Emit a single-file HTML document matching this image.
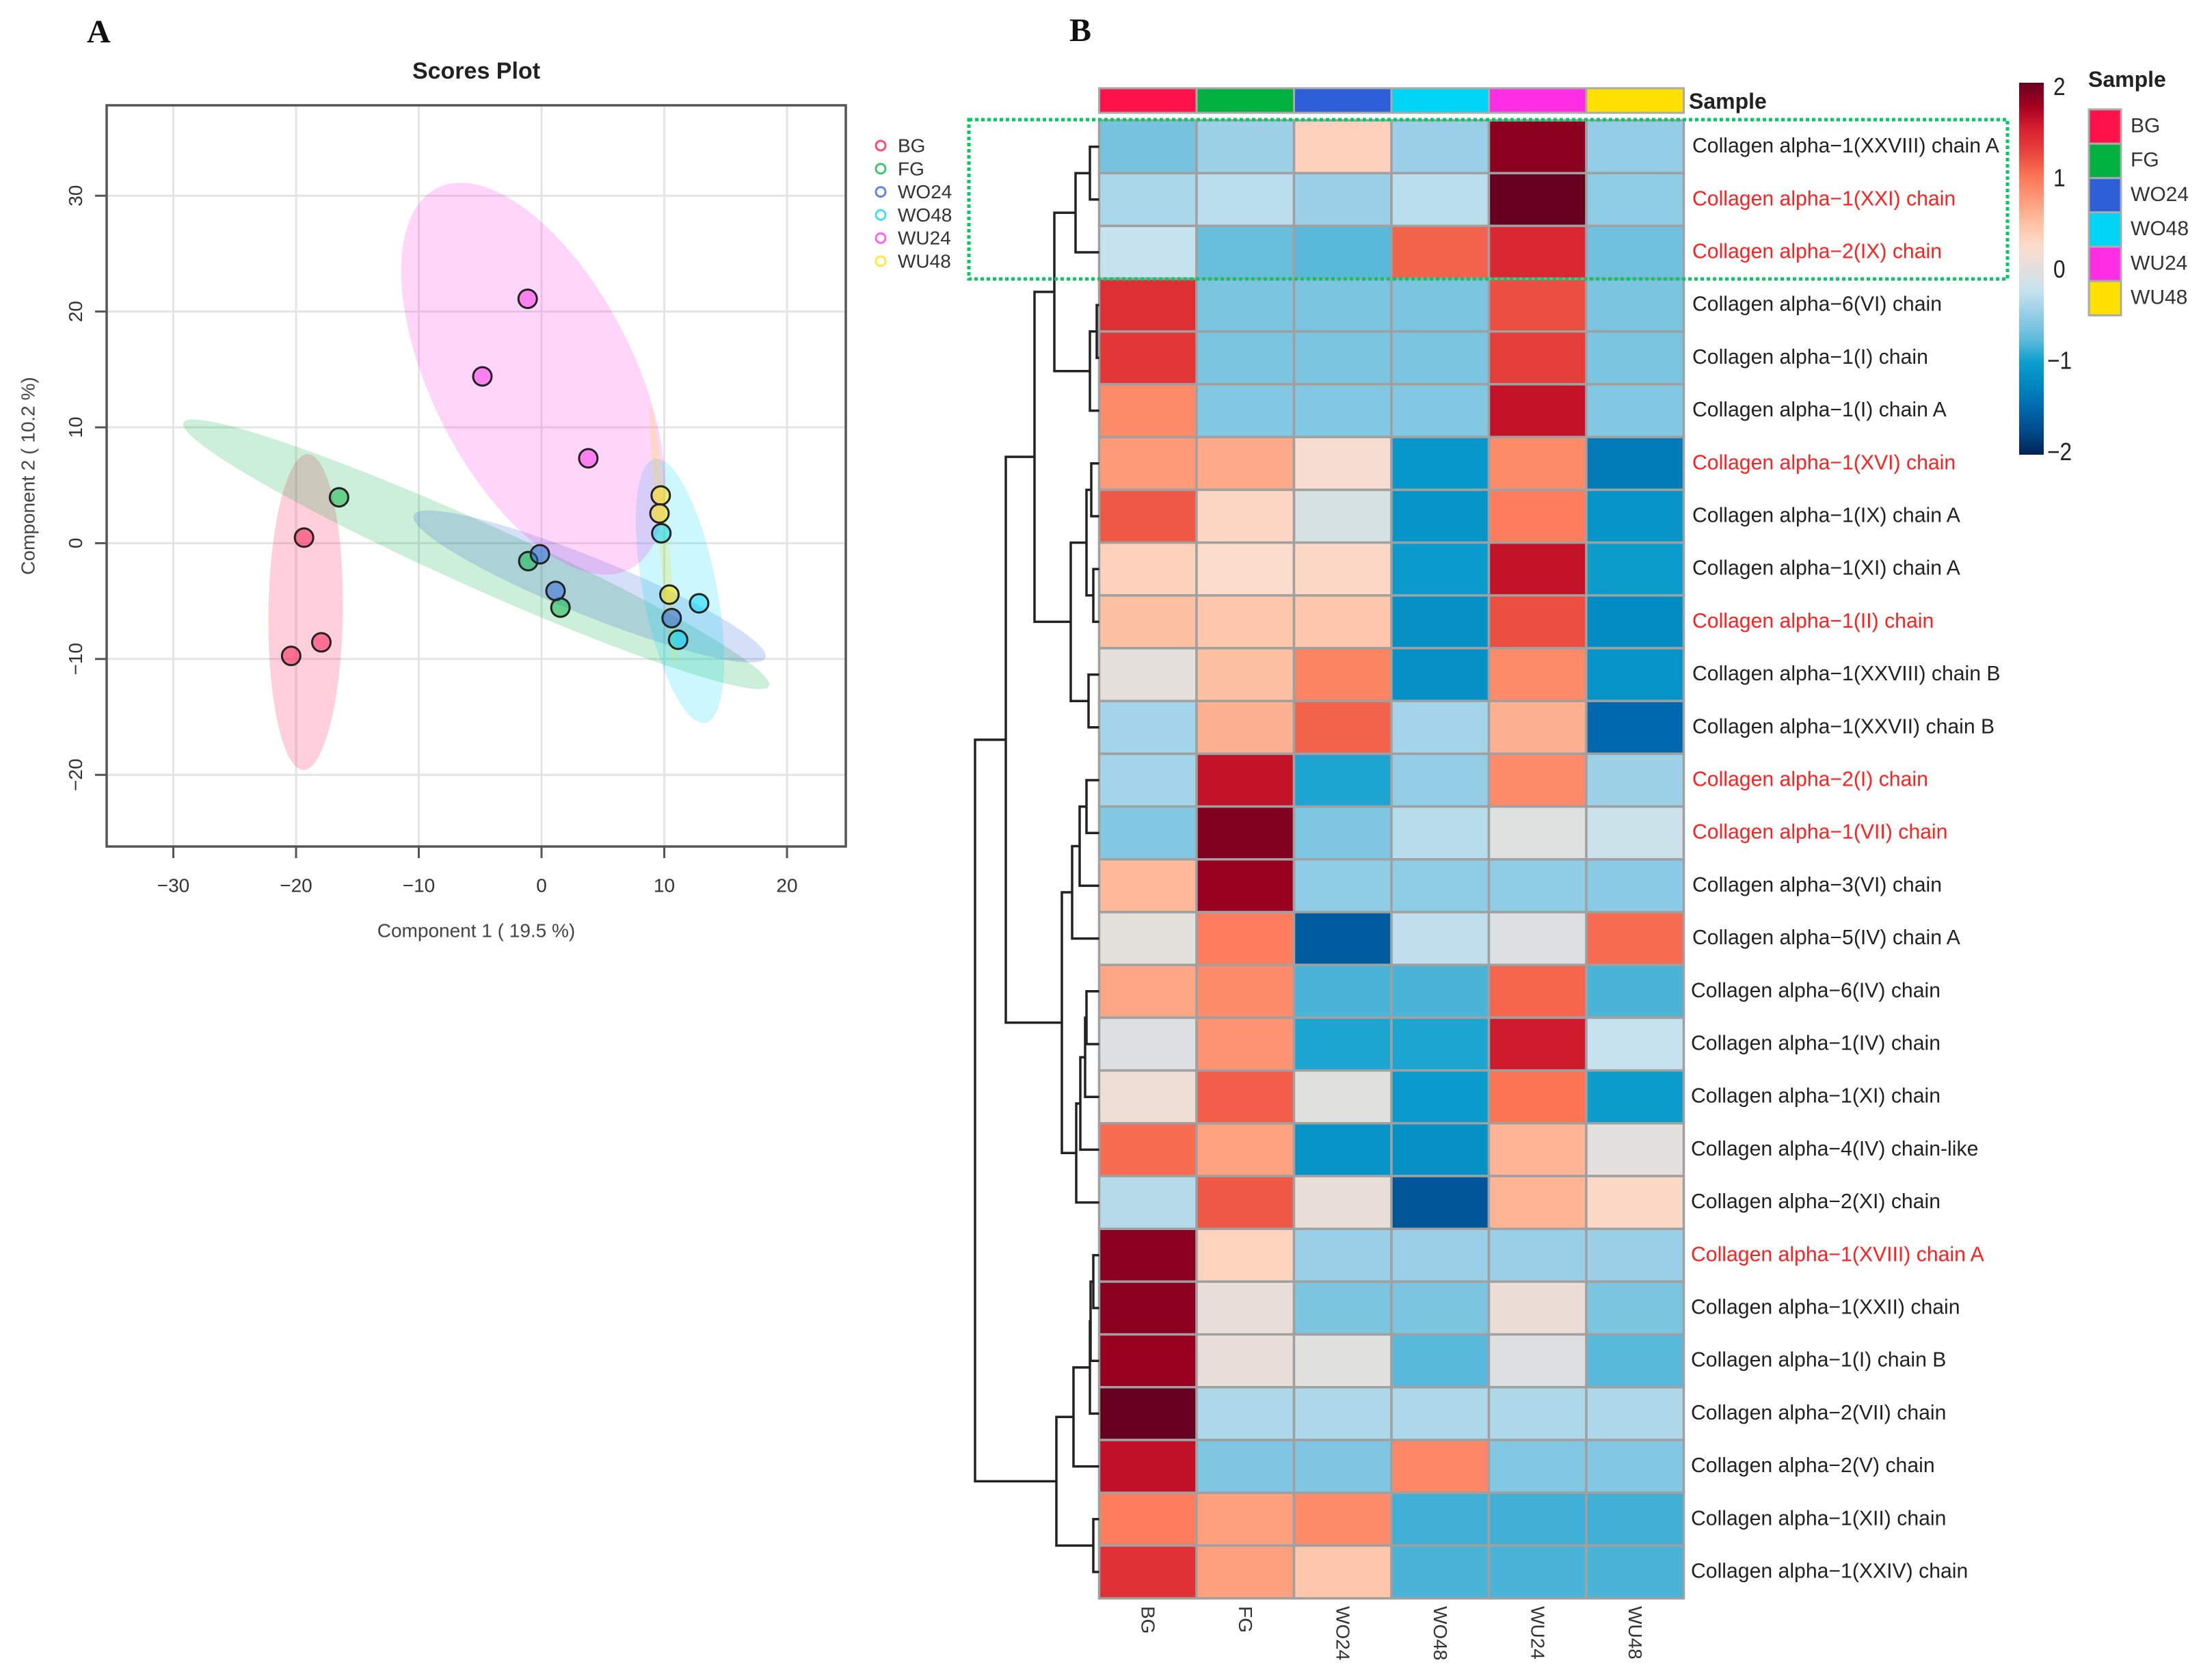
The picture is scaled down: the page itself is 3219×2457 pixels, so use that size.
<!DOCTYPE html>
<html lang="en">
<head>
<meta charset="utf-8">
<title>Scores plot and collagen heatmap</title>
<style>
html,body{margin:0;padding:0;background:#fff;}
svg{display:block;font-family:"Liberation Sans",sans-serif;}
</style>
</head>
<body>
<svg id="fig" xmlns="http://www.w3.org/2000/svg" width="3219" height="2457" viewBox="0 0 3219 2457">
<rect width="3219" height="2457" fill="#fff"/>
<text x="127" y="62" font-family="'Liberation Serif',serif" font-weight="bold" font-size="48" fill="#111">A</text>
<text x="1564" y="60" font-family="'Liberation Serif',serif" font-weight="bold" font-size="48" fill="#111">B</text>
<text x="696.5" y="104" text-anchor="middle" dominant-baseline="central" font-weight="bold" font-size="34" fill="#222">Scores Plot</text>
<text x="696.5" y="1361" text-anchor="middle" dominant-baseline="central" font-size="28" fill="#444">Component 1 ( 19.5 %)</text>
<text transform="translate(41,696) rotate(-90)" text-anchor="middle" dominant-baseline="central" font-size="28" fill="#444">Component 2 ( 10.2 %)</text>
<g id="scores"></g>
<g id="heat"></g>
<g id="dendro"></g>
<g id="cbar"></g>
<g id="samplelegend"></g>
<rect x="1417" y="175" width="1519" height="233" fill="none" stroke="#00cc66" stroke-width="5" stroke-dasharray="5 4"/>
</svg>
<script>
// ---------- Scores plot data ----------
var groups = ['BG','FG','WO24','WO48','WU24','WU48'];
var groupColors = ['#FF1249','#00B140','#2C5FD8','#00D5F5','#FF2EE5','#FFE000'];
var xTicks = [-30,-20,-10,0,10,20];
var yTicks = [-20,-10,0,10,20,30];
var pointsX = [[-19.35,-17.94,-20.4],[-16.5,-1.08,1.54],[-0.13,1.14,10.6],[9.76,12.84,11.13],[-1.13,-4.82,3.81],[9.71,9.61,10.42]];
var pointsY = [[0.48,-8.56,-9.73],[3.96,-1.55,-5.56],[-0.96,-4.12,-6.47],[0.86,-5.19,-8.34],[21.1,14.4,7.33],[4.12,2.57,-4.44]];
var ellipseCX = [-19.22,-5.32,3.91,11.28,-0.68,9.9];
var ellipseCY = [-5.94,-0.96,-3.74,-4.12,14.2,0.64];
var ellipseAX = [0.18,23.86,14.33,-2.07,7.85,1.01];
var ellipseAY = [13.64,-11.36,-6.15,11.39,-16.45,-11.23];
var ellipseBX = [3.03,-1.08,-0.86,2.95,7.35,0.4];
var ellipseBY = [-0.04,-2.53,-2.30,0.6,3.95,0.05];

// ---------- Heatmap data ----------
var sampleNames = ['BG','FG','WO24','WO48','WU24','WU48'];
var rowNames = [
'Collagen alpha\u22121(XXVIII) chain A','Collagen alpha\u22121(XXI) chain','Collagen alpha\u22122(IX) chain',
'Collagen alpha\u22126(VI) chain','Collagen alpha\u22121(I) chain','Collagen alpha\u22121(I) chain A',
'Collagen alpha\u22121(XVI) chain','Collagen alpha\u22121(IX) chain A','Collagen alpha\u22121(XI) chain A',
'Collagen alpha\u22121(II) chain','Collagen alpha\u22121(XXVIII) chain B','Collagen alpha\u22121(XXVII) chain B',
'Collagen alpha\u22122(I) chain','Collagen alpha\u22121(VII) chain','Collagen alpha\u22123(VI) chain',
'Collagen alpha\u22125(IV) chain A','Collagen alpha\u22126(IV) chain','Collagen alpha\u22121(IV) chain',
'Collagen alpha\u22121(XI) chain','Collagen alpha\u22124(IV) chain-like','Collagen alpha\u22122(XI) chain',
'Collagen alpha\u22121(XVIII) chain A','Collagen alpha\u22121(XXII) chain','Collagen alpha\u22121(I) chain B',
'Collagen alpha\u22122(VII) chain','Collagen alpha\u22122(V) chain','Collagen alpha\u22121(XII) chain','Collagen alpha\u22121(XXIV) chain'];
var redRows = [1,2,6,9,12,13,21];
var heatValues = [
[-0.65,-0.45,0.35,-0.47,1.85,-0.5],
[-0.38,-0.3,-0.47,-0.3,2.0,-0.52],
[-0.25,-0.72,-0.78,1.1,1.45,-0.68],
[1.4,-0.62,-0.62,-0.62,1.2,-0.62],
[1.35,-0.62,-0.62,-0.62,1.3,-0.62],
[0.85,-0.58,-0.58,-0.58,1.6,-0.58],
[0.75,0.65,0.2,-1.08,0.85,-1.35],
[1.15,0.3,-0.1,-1.1,0.95,-1.1],
[0.35,0.25,0.28,-1.05,1.6,-1.03],
[0.5,0.45,0.45,-1.15,1.2,-1.2],
[0.03,0.5,0.9,-1.15,0.85,-1.12],
[-0.42,0.6,1.1,-0.42,0.6,-1.5],
[-0.42,1.6,-0.95,-0.5,0.85,-0.45],
[-0.58,1.9,-0.6,-0.32,-0.03,-0.2],
[0.55,1.8,-0.52,-0.52,-0.52,-0.55],
[0.02,0.95,-1.6,-0.28,-0.05,1.05],
[0.68,0.85,-0.82,-0.82,1.08,-0.82],
[-0.05,0.8,-0.95,-0.95,1.55,-0.25],
[0.12,1.12,-0.02,-1.05,1.0,-1.03],
[1.05,0.7,-1.12,-1.15,0.58,0.01],
[-0.33,1.15,0.08,-1.65,0.58,0.28],
[1.85,0.33,-0.47,-0.47,-0.47,-0.47],
[1.85,0.08,-0.62,-0.62,0.1,-0.62],
[1.8,0.08,-0.02,-0.78,-0.04,-0.78],
[2.0,-0.37,-0.37,-0.37,-0.37,-0.37],
[1.62,-0.6,-0.6,0.88,-0.58,-0.58],
[0.95,0.72,0.85,-0.85,-0.85,-0.85],
[1.38,0.72,0.45,-0.82,-0.82,-0.82]];
var scaleValues = [-2,-1.75,-1.5,-1.25,-1,-0.75,-0.5,-0.25,0,0.25,0.5,0.75,1,1.25,1.5,1.75,2];
var scaleColors = ['#002255','#004a8a','#0068ad','#0087c0','#0c9fce','#62bcdc','#93cde6','#c5e2ee','#e2e0de','#fcdccb','#fec0a2','#fe9a78','#fb7555','#e8453c','#d82030','#a5001f','#670020'];
var scaleTicks = [2,1,0,-1,-2];
// Each merge: child a, child b, height. Children below 100 are rows; 100+n refers to merge n.
var dendroChildA = [0,100,3,102,101,6,8,105,10,107,104,12,111,112,16,114,115,116,113,110,21,120,121,122,26,123,119];
var dendroChildB = [1,2,4,5,103,7,9,106,11,108,109,13,14,15,17,18,19,20,117,118,22,23,24,25,27,124,125];
var dendroHeight = [1.3,3.4,0.3,1.3,6.5,1.1,0.8,1.8,1.5,4.1,9.4,1.8,2.8,3.9,1.8,2.0,2.7,3.3,5.4,13.6,0.8,1.2,1.3,3.7,0.8,6.2,18.1];

// ---------- Helpers ----------
var NS = 'http://www.w3.org/2000/svg';
function mk(tag, attrs, parent, txt){
  var e = document.createElementNS(NS, tag);
  for (var k in attrs) e.setAttribute(k, attrs[k]);
  if (txt !== undefined) e.textContent = txt;
  parent.appendChild(e);
  return e;
}
function fmt(v){ return v < 0 ? '\u2212' + Math.abs(v) : String(v); }

// ---------- Axis functions ----------
function xS(v){ return 792 + 17.95 * v; }
function yS(v){ return 794.4 - 16.94 * v; }
var heatLeft = 1607.5, colW = 142.5, heatTop = 176, rowH = 77.2;
function colX(i){ return heatLeft + colW * i; }
function rowY(i){ return heatTop + rowH * i; }
function dX(h){ return 1607 - 10 * h; }
function cbY(v){ return 393 - 136 * v; }
function cbLabelY(v){ return 394.5 - 133.5 * v; }
function hexToRgb(h){ return [parseInt(h.substr(1,2),16),parseInt(h.substr(3,2),16),parseInt(h.substr(5,2),16)]; }
function colorOf(v){
  var n = scaleValues.length;
  if (v <= scaleValues[0]) return scaleColors[0];
  if (v >= scaleValues[n-1]) return scaleColors[n-1];
  for (var i = 0; i < n-1; i++){
    if (v <= scaleValues[i+1]){
      var t = (v - scaleValues[i]) / (scaleValues[i+1] - scaleValues[i]);
      var a = hexToRgb(scaleColors[i]), b = hexToRgb(scaleColors[i+1]);
      return 'rgb(' + Math.round(a[0]+(b[0]-a[0])*t) + ',' + Math.round(a[1]+(b[1]-a[1])*t) + ',' + Math.round(a[2]+(b[2]-a[2])*t) + ')';
    }
  }
}

// ---------- Scores plot ----------
var sg = document.getElementById('scores');
var i, j, el;
for (i = 0; i < xTicks.length; i++){
  el = mk('line',{x1:xS(xTicks[i]),x2:xS(xTicks[i]),y1:154,y2:1238,stroke:'#e4e4e4','stroke-width':3},sg);
  
  
}
for (i = 0; i < yTicks.length; i++){
  el = mk('line',{x1:156,x2:1237,y1:yS(yTicks[i]),y2:yS(yTicks[i]),stroke:'#e4e4e4','stroke-width':3},sg);
  
  
}
for (i = 0; i < groups.length; i++){
  var d = '';
  for (j = 0; j <= 96; j++){
    var t = j / 96 * Math.PI * 2;
    var ex = ellipseCX[i] + ellipseAX[i]*Math.cos(t) + ellipseBX[i]*Math.sin(t);
    var ey = ellipseCY[i] + ellipseAY[i]*Math.cos(t) + ellipseBY[i]*Math.sin(t);
    d += (j ? 'L' : 'M') + xS(ex).toFixed(1) + ' ' + yS(ey).toFixed(1);
  }
  el = mk('path',{d:d+'Z',fill:groupColors[i],'fill-opacity':0.2,stroke:'none'},sg);
  
  
}
for (i = 0; i < groups.length; i++){
  for (j = 0; j < pointsX[i].length; j++){
    el = mk('circle',{cx:xS(pointsX[i][j]),cy:yS(pointsY[i][j]),r:13.5,fill:groupColors[i],'fill-opacity':0.5,stroke:'#222','stroke-width':3},sg);
    
    
  }
}
el = mk('rect',{x:156,y:154,width:1081,height:1084,fill:'none',stroke:'#555','stroke-width':3.5},sg);


for (i = 0; i < xTicks.length; i++){
  el = mk('line',{x1:xS(xTicks[i]),x2:xS(xTicks[i]),y1:1238,y2:1255,stroke:'#555','stroke-width':3},sg);
  
  
  el = mk('text',{x:xS(xTicks[i]),y:1295,'text-anchor':'middle','dominant-baseline':'central','font-size':28,fill:'#333'},sg,fmt(xTicks[i]));
  
  
}
for (i = 0; i < yTicks.length; i++){
  el = mk('line',{x1:139,x2:156,y1:yS(yTicks[i]),y2:yS(yTicks[i]),stroke:'#555','stroke-width':3},sg);
  
  
  el = mk('text',{transform:'translate(110.5,'+yS(yTicks[i])+') rotate(-90)','text-anchor':'middle','dominant-baseline':'central','font-size':28,fill:'#333'},sg,fmt(yTicks[i]));
  
  
}
for (i = 0; i < groups.length; i++){
  var ly = 213 + 33.8 * i;
  el = mk('circle',{cx:1288,cy:ly,r:7,fill:'none',stroke:groupColors[i],'stroke-opacity':0.75,'stroke-width':3},sg);
  
  
  el = mk('text',{x:1313,y:ly,'dominant-baseline':'central','font-size':28,fill:'#333'},sg,groups[i]);
  
  
}

// ---------- Heatmap ----------
var hg = document.getElementById('heat');
for (j = 0; j < sampleNames.length; j++){
  el = mk('rect',{x:colX(j),y:129,width:colW,height:36,fill:groupColors[j],stroke:'#aaa','stroke-width':3},hg);
  
  
  el = mk('text',{transform:'translate('+(colX(j)+colW/2)+',2349) rotate(90)','dominant-baseline':'central','font-size':28,fill:'#333'},hg,sampleNames[j]);
  
  
}
el = mk('text',{x:2470,y:148,'dominant-baseline':'central','font-weight':'bold','font-size':32,fill:'#222'},hg,'Sample');


for (i = 0; i < rowNames.length; i++){
  for (j = 0; j < sampleNames.length; j++){
    el = mk('rect',{x:colX(j),y:rowY(i),width:colW,height:rowH,fill:colorOf(heatValues[i][j]),stroke:'#a0a0a0','stroke-width':3.5},hg);
    
    
  }
  var isRed = redRows.indexOf(i) >= 0;
  el = mk('text',{x:i >= 16 ? 2473 : 2475,y:rowY(i)+rowH/2-1,'dominant-baseline':'central','font-size':30.2,fill:isRed ? '#ff2020' : '#222'},hg,rowNames[i]);
  
  
}

// ---------- Dendrogram ----------
var dg = document.getElementById('dendro');
var nodeY = [], nodeX = [];
function childY(c){ return c >= 100 ? nodeY[c-100] : rowY(c) + rowH/2; }
function childX(c){ return c >= 100 ? nodeX[c-100] : heatLeft; }
for (i = 0; i < dendroHeight.length; i++){
  var a = dendroChildA[i], b = dendroChildB[i], x = dX(dendroHeight[i]);
  var ya = childY(a), yb = childY(b);
  nodeY[i] = (ya + yb) / 2;
  nodeX[i] = x;
  el = mk('path',{d:'M'+childX(a)+' '+ya+'H'+x+'V'+yb+'H'+childX(b),fill:'none',stroke:'#222','stroke-width':3.5},dg);
  
  
}

// ---------- Colour scale ----------
var cg = document.getElementById('cbar');
var defs = mk('defs',{},cg);
var grad = mk('linearGradient',{id:'cbgrad',x1:0,y1:1,x2:0,y2:0},defs);
for (i = 0; i < scaleValues.length; i++){
  mk('stop',{offset:(scaleValues[i]+2)/4,'stop-color':scaleColors[i]},grad);
}
el = mk('rect',{x:2953,y:cbY(2),width:36,height:cbY(-2)-cbY(2),fill:'url(#cbgrad)'},cg);


for (i = 0; i < scaleTicks.length; i++){
  el = mk('text',{transform:'translate('+(scaleTicks[i] < 0 ? 2994 : 3003)+','+cbLabelY(scaleTicks[i])+') scale(0.88,1)','dominant-baseline':'central','font-size':36,fill:'#222'},cg,fmt(scaleTicks[i]));
  
  
}

// ---------- Sample legend ----------
var lg = document.getElementById('samplelegend');
el = mk('text',{x:3054,y:116,'dominant-baseline':'central','font-weight':'bold','font-size':32,fill:'#222'},lg,'Sample');


for (i = 0; i < sampleNames.length; i++){
  var sy = 160 + 50.2 * i;
  el = mk('rect',{x:3055,y:sy,width:47,height:50.2,fill:groupColors[i],stroke:'#aaa','stroke-width':3},lg);
  
  
  el = mk('text',{x:3116,y:sy+24,'dominant-baseline':'central','font-size':30,fill:'#333'},lg,sampleNames[i]);
  
  
}
</script>
</body>
</html>
